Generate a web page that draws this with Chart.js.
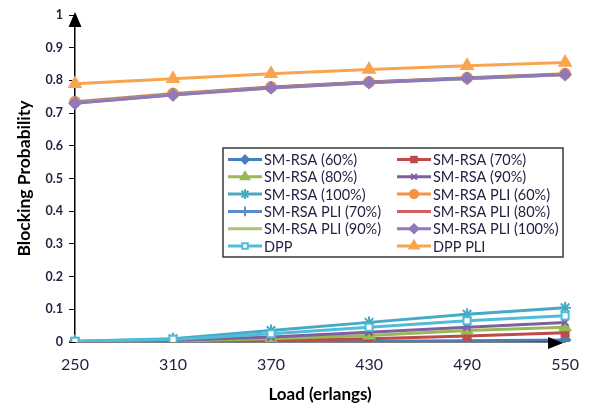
<!DOCTYPE html>
<html>
<head>
<meta charset="utf-8">
<script src="https://cdn.jsdelivr.net/npm/chart.js@4.4.1/dist/chart.umd.min.js"></script>
<style>
  html, body { margin: 0; padding: 0; background: #fff; }
  #wrap { width: 592px; height: 411px; }
</style>
</head>
<body>
<div id="wrap"><canvas id="c" width="592" height="411"></canvas></div>
<script>
// Load values on the x axis (erlangs)
const loads = ['250', '310', '370', '430', '490', '550'];
const yTicks = [0, 0.1, 0.2, 0.3, 0.4, 0.5, 0.6, 0.7, 0.8, 0.9, 1];

// Blocking probability per scheme
const smRsa60  = [0.000, 0.000, 0.001, 0.002, 0.004, 0.006];
const smRsa70  = [0.000, 0.001, 0.005, 0.010, 0.018, 0.028];
const smRsa80  = [0.000, 0.003, 0.010, 0.020, 0.035, 0.045];
const smRsa90  = [0.000, 0.005, 0.015, 0.030, 0.045, 0.060];
const smRsa100 = [0.002, 0.010, 0.035, 0.060, 0.085, 0.105];
const pli60    = [0.735, 0.760, 0.780, 0.795, 0.808, 0.820];
const pli70    = [0.733, 0.758, 0.779, 0.795, 0.807, 0.819];
const pli80    = [0.732, 0.757, 0.778, 0.794, 0.806, 0.818];
const pli90    = [0.731, 0.756, 0.777, 0.793, 0.805, 0.817];
const pli100   = [0.730, 0.755, 0.777, 0.793, 0.806, 0.818];
const dpp      = [0.002, 0.008, 0.025, 0.045, 0.065, 0.080];
const dppPli   = [0.790, 0.805, 0.820, 0.833, 0.845, 0.855];

const seriesNames = [
  'SM-RSA (60%)', 'SM-RSA (70%)', 'SM-RSA (80%)', 'SM-RSA (90%)', 'SM-RSA (100%)',
  'SM-RSA PLI (60%)', 'SM-RSA PLI (70%)', 'SM-RSA PLI (80%)', 'SM-RSA PLI (90%)',
  'SM-RSA PLI (100%)', 'DPP', 'DPP PLI'
];
const seriesValues = [smRsa60, smRsa70, smRsa80, smRsa90, smRsa100,
  pli60, pli70, pli80, pli90, pli100, dpp, dppPli];

const styles = [
  { color: '#4A7EBB', point: 'rectRot',  r: 5,   fill: null },
  { color: '#BE4B48', point: 'rect',     r: 5,   fill: null },
  { color: '#98B954', point: 'triangle', r: 6,   fill: null },
  { color: '#7D60A0', point: 'crossRot', r: 5,   fill: null },
  { color: '#46AAC5', point: 'star',     r: 6,   fill: null },
  { color: '#F69240', point: 'circle',   r: 5,   fill: null },
  { color: '#5B8CCB', point: 'cross',    r: 6,   fill: null },
  { color: '#D1605C', point: false,      r: 0,   fill: null },
  { color: '#A9C76E', point: false,      r: 0,   fill: null },
  { color: '#9079BB', point: 'rectRot',  r: 5.5, fill: null },
  { color: '#4FBDDA', point: 'rect',     r: 5,   fill: '#ffffff' },
  { color: '#F9A44E', point: 'triangle', r: 6.5, fill: null }
];

const n = seriesNames.length;
const datasets = seriesNames.map((name, i) => ({
  label: name,
  data: seriesValues[i],
  borderColor: styles[i].color,
  backgroundColor: styles[i].fill || styles[i].color,
  pointStyle: styles[i].point,
  pointRadius: styles[i].r,
  pointBorderColor: styles[i].color,
  pointBackgroundColor: styles[i].fill || styles[i].color,
  pointBorderWidth: 2,
  borderWidth: 3,
  tension: 0,
  order: n - i
}));

const FONT = 'Lato, "Open Sans", sans-serif';
const tickColor = '#1F2142';

// Axis arrow heads and the boxed two-column legend inside the plot
const decorations = {
  id: 'decorations',
  afterDatasetsDraw(chart) {
    const ctx = chart.ctx;
    const a = chart.chartArea;
    ctx.save();
    ctx.fillStyle = '#000';
    // arrow on top of the y axis
    ctx.beginPath();
    ctx.moveTo(a.left, a.top - 3);
    ctx.lineTo(a.left - 6.5, a.top + 12);
    ctx.lineTo(a.left + 6.5, a.top + 12);
    ctx.closePath();
    ctx.fill();
    // arrow at the end of the x axis
    ctx.beginPath();
    ctx.moveTo(a.right - 2, a.bottom + 1);
    ctx.lineTo(a.right - 17, a.bottom - 5);
    ctx.lineTo(a.right - 17, a.bottom + 7);
    ctx.closePath();
    ctx.fill();

    // legend box
    const bx = a.left + 148, by = 148, bw = 340, bh = 109;
    ctx.fillStyle = '#fff';
    ctx.fillRect(bx, by, bw, bh);
    ctx.strokeStyle = '#3a3a3a';
    ctx.lineWidth = 1.5;
    ctx.strokeRect(bx, by, bw, bh);

    const rowH = 17.3;
    const colX = [bx + 1, bx + 170];
    ctx.font = '14.5px ' + FONT;
    ctx.textBaseline = 'middle';
    chart.data.datasets.forEach((ds, i) => {
      const col = i % 2, row = Math.floor(i / 2);
      const x0 = colX[col], y = by + 11.5 + row * rowH;
      ctx.strokeStyle = ds.borderColor;
      ctx.lineWidth = 3;
      ctx.beginPath();
      ctx.moveTo(x0 + 4, y);
      ctx.lineTo(x0 + 38, y);
      ctx.stroke();
      if (ds.pointStyle) {
        ctx.fillStyle = ds.pointBackgroundColor;
        ctx.strokeStyle = ds.pointBorderColor;
        ctx.lineWidth = 2;
        Chart.helpers.drawPoint(ctx, {
          pointStyle: ds.pointStyle,
          radius: ds.pointRadius * 0.8,
          borderWidth: 2,
          rotation: 0
        }, x0 + 21, y);
      }
      ctx.fillStyle = tickColor;
      ctx.fillText(ds.label, x0 + 40, y + 1);
    });
    ctx.restore();
  }
};

new Chart(document.getElementById('c'), {
  type: 'line',
  data: { labels: loads, datasets },
  options: {
    responsive: false,
    animation: false,
    layout: { padding: { top: 15, right: 17, left: 0, bottom: 0 } },
    plugins: {
      legend: { display: false },
      tooltip: { enabled: false }
    },
    scales: {
      x: {
        type: 'category',
        offset: false,
        grid: { display: true, drawOnChartArea: false, drawTicks: false },
        border: { display: true, color: '#000', width: 1.5 },
        ticks: { color: tickColor, font: { family: FONT, size: 16 }, padding: 13, maxRotation: 0 },
        title: {
          display: true, text: 'Load (erlangs)', color: '#000',
          font: { family: FONT, size: 17, weight: 'bold' },
          padding: { top: 0, bottom: 6 }
        },
        afterFit(scale) { scale.height = 69; }
      },
      y: {
        min: 0, max: 1,
        afterBuildTicks(scale) { scale.ticks = yTicks.map(v => ({ value: v })); },
        grid: { display: true, drawOnChartArea: false, drawTicks: true, tickLength: 6, color: '#000', tickWidth: 1 },
        border: { display: true, color: '#000', width: 1.5 },
        ticks: {
          color: tickColor, font: { family: FONT, size: 12.5, weight: 'bold' }, padding: 6,
          callback: v => String(Math.round(v * 10) / 10)
        },
        title: {
          display: true, text: 'Blocking Probability', color: '#000',
          font: { family: FONT, size: 17.5, weight: 'bold' },
          padding: { top: 14, bottom: 0 }
        },
        afterFit(scale) { scale.width = 75; }
      }
    }
  },
  plugins: [decorations]
});
</script>
</body>
</html>
